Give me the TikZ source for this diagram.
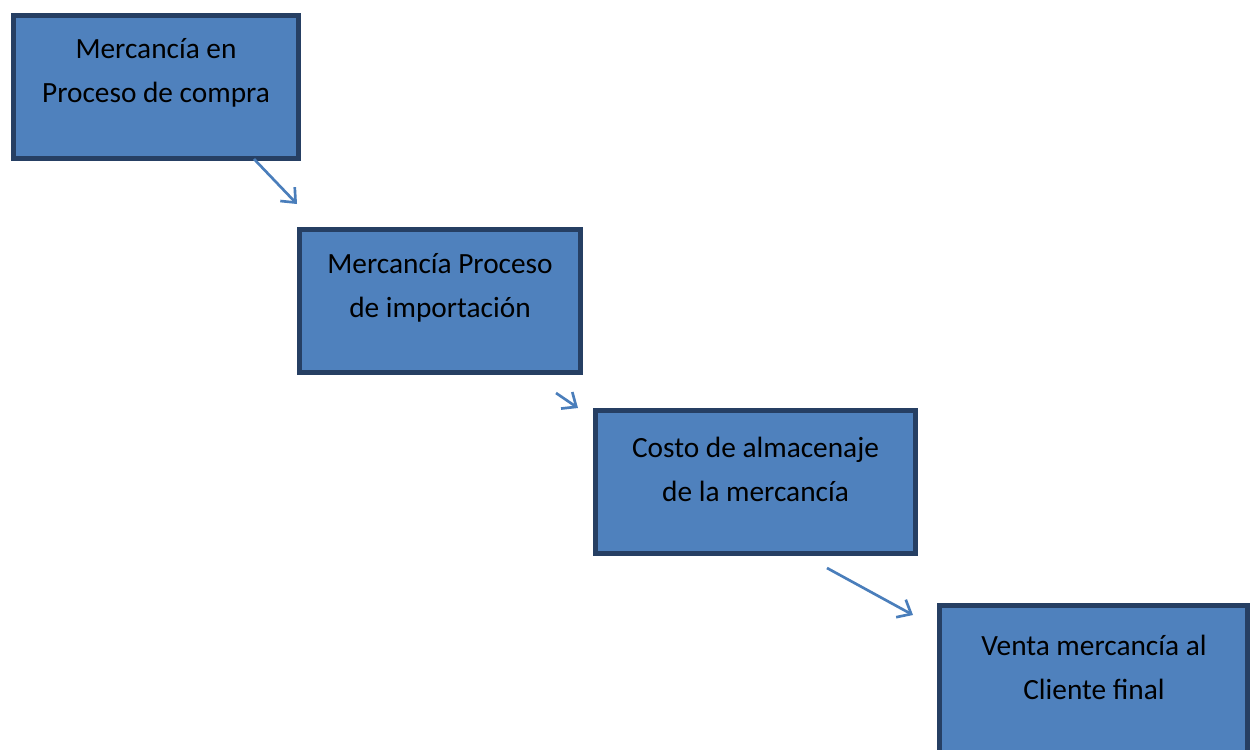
\documentclass[tikz,border=0pt]{standalone}
\usepackage{fontspec}
\setmainfont{Carlito}
\usetikzlibrary{arrows.meta}
\definecolor{boxfill}{HTML}{4F81BD}
\definecolor{boxline}{HTML}{263F63}
\definecolor{arrowcol}{HTML}{4A7EBB}
\begin{document}
\begin{tikzpicture}[x=0.6pt,y=-0.6pt,
  stepbox/.style={draw=boxline,fill=boxfill,line width=3pt,rectangle,inner sep=0pt,outer sep=0pt},
  boxtext/.style={align=center,font=\fontsize{17.6pt}{26.4pt}\selectfont,text=black,inner sep=0pt},
  flow/.style={draw=arrowcol,line width=1.6pt,-{Straight Barb[length=7pt,width=12pt,line width=1.6pt]}}]
\clip (0,0) rectangle (1254,749);
\useasboundingbox (0,0) rectangle (1254,749);
\node[stepbox,minimum width=171pt,minimum height=85.8pt] (b1) at (156,87) {};
\node[stepbox,minimum width=168.6pt,minimum height=85.8pt] (b2) at (440,301) {};
\node[stepbox,minimum width=192pt,minimum height=85.8pt] (b3) at (755.5,482) {};
\node[stepbox,minimum width=184.8pt,minimum height=95pt] (b4) at (1093.5,684.7) {};
\node[boxtext] (t1) at (156,73) {Mercancía en\\Proceso de compra};
\node[boxtext] (t2) at (440,288) {Mercancía Proceso\\de importación};
\node[boxtext] (t3) at (755.5,469.5) {Costo de almacenaje\\de la mercancía};
\node[boxtext] (t4) at (1094,667.5) {Venta mercancía al\\Cliente final};
\coordinate (a1s) at (254,159);
\coordinate (a1e) at (297,204);
\coordinate (a2s) at (556,393);
\coordinate (a2e) at (578,408);
\coordinate (a3s) at (827,568);
\coordinate (a3e) at (913,615);
\draw[flow] (a1s) -- (a1e);
\draw[flow] (a2s) -- (a2e);
\draw[flow] (a3s) -- (a3e);
\end{tikzpicture}
\end{document}
